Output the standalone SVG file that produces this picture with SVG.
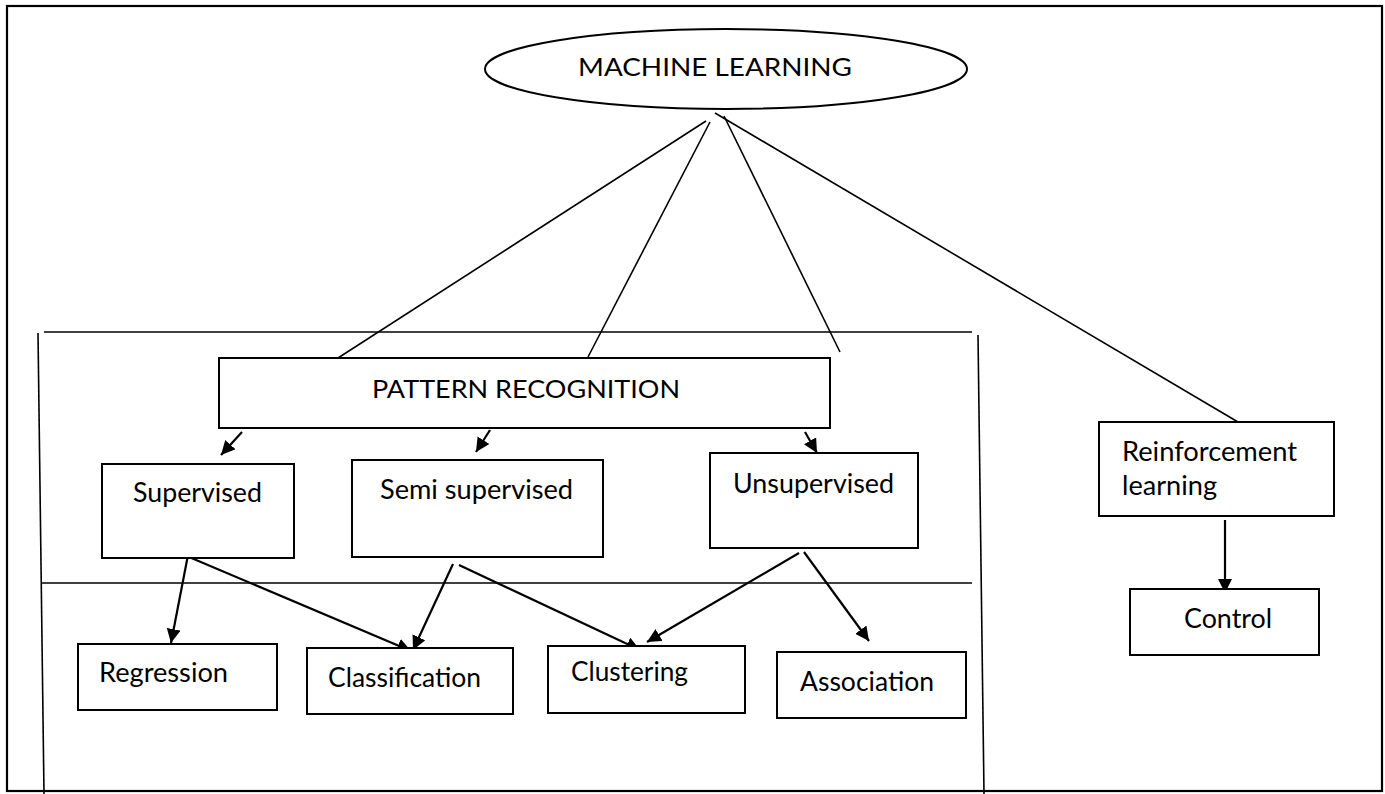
<svg xmlns="http://www.w3.org/2000/svg" width="1385" height="794" viewBox="0 0 1385 794">
<style>
.box{fill:#fff;stroke:#000;stroke-width:2}
.frame{fill:none;stroke:#000;stroke-width:1.6}
.line{fill:none;stroke:#000;stroke-width:1.6}
.arr{fill:none;stroke:#000;stroke-width:2.2;marker-end:url(#ah)}
text{font-family:Lato,"Open Sans","Liberation Sans",sans-serif;font-size:26px;fill:#000}
.cap{font-size:25px}
</style>
<defs>
<marker id="ah" markerUnits="userSpaceOnUse" markerWidth="15" markerHeight="15" refX="14" refY="7" orient="auto">
<path d="M0,0 L14,7 L0,14 z" fill="#000"/>
</marker>
</defs>
<rect x="0" y="0" width="1385" height="794" fill="#fff"/>
<g id="border">
<rect x="7" y="6" width="1375" height="785" fill="none" stroke="#000" stroke-width="2.2"/>
</g>
<g id="frame">
<line class="frame" x1="44" y1="332" x2="972" y2="332"/>
<line class="frame" x1="38" y1="333" x2="44" y2="794"/>
<line class="frame" x1="978" y1="335" x2="984" y2="794"/>
<line class="frame" x1="42" y1="583" x2="972" y2="583"/>
</g>
<g id="connectors">
<line class="line" x1="706" y1="121" x2="338" y2="358"/>
<line class="line" x1="710" y1="122" x2="588" y2="357"/>
<line class="line" x1="724" y1="116" x2="840" y2="352"/>
<line class="line" x1="715" y1="113" x2="1238" y2="422"/>
<line class="arr" x1="242" y1="432" x2="221" y2="455"/>
<line class="arr" x1="490" y1="430" x2="476" y2="452"/>
<line class="arr" x1="805" y1="432" x2="817" y2="453"/>
<line class="arr" x1="188" y1="555" x2="171" y2="643"/>
<line class="arr" x1="189" y1="557" x2="411" y2="651"/>
<line class="arr" x1="453" y1="564" x2="413" y2="650"/>
<line class="arr" x1="459" y1="565" x2="640" y2="650"/>
<line class="arr" x1="799" y1="553" x2="647" y2="642"/>
<line class="arr" x1="804" y1="552" x2="869" y2="641"/>
<line class="arr" x1="1225" y1="520" x2="1225" y2="593"/>
</g>
<g id="machine-learning">
<ellipse cx="726" cy="69" rx="241" ry="40" class="box"/>
<text class="cap" x="578" y="76" textLength="274" lengthAdjust="spacingAndGlyphs">MACHINE LEARNING</text>
</g>
<g id="pattern-recognition">
<rect class="box" x="219" y="358" width="611" height="70"/>
<text class="cap" x="372" y="398" textLength="308" lengthAdjust="spacingAndGlyphs">PATTERN RECOGNITION</text>
</g>
<g id="supervised">
<rect class="box" x="102" y="464" width="192" height="94"/>
<text x="133" y="502" textLength="129" lengthAdjust="spacingAndGlyphs">Supervised</text>
</g>
<g id="semi-supervised">
<rect class="box" x="352" y="460" width="251" height="97"/>
<text x="380" y="499" textLength="193" lengthAdjust="spacingAndGlyphs">Semi supervised</text>
</g>
<g id="unsupervised">
<rect class="box" x="710" y="453" width="208" height="95"/>
<text x="733" y="493" textLength="161" lengthAdjust="spacingAndGlyphs">Unsupervised</text>
</g>
<g id="reinforcement">
<rect class="box" x="1099" y="422" width="235" height="94"/>
<text x="1122" y="461" textLength="175" lengthAdjust="spacingAndGlyphs">Reinforcement</text>
<text x="1122" y="495" textLength="95" lengthAdjust="spacingAndGlyphs">learning</text>
</g>
<g id="control">
<rect class="box" x="1130" y="589" width="189" height="66"/>
<text x="1184" y="628" textLength="88" lengthAdjust="spacingAndGlyphs">Control</text>
</g>
<g id="regression">
<rect class="box" x="78" y="644" width="199" height="66"/>
<text x="99" y="682" textLength="129" lengthAdjust="spacingAndGlyphs">Regression</text>
</g>
<g id="classification">
<rect class="box" x="307" y="648" width="206" height="66"/>
<text x="328" y="687" textLength="153" lengthAdjust="spacingAndGlyphs">Classification</text>
</g>
<g id="clustering">
<rect class="box" x="548" y="646" width="197" height="67"/>
<text x="571" y="681" textLength="117" lengthAdjust="spacingAndGlyphs">Clustering</text>
</g>
<g id="association">
<rect class="box" x="777" y="652" width="189" height="66"/>
<text x="800" y="691" textLength="134" lengthAdjust="spacingAndGlyphs">Association</text>
</g>
</svg>
